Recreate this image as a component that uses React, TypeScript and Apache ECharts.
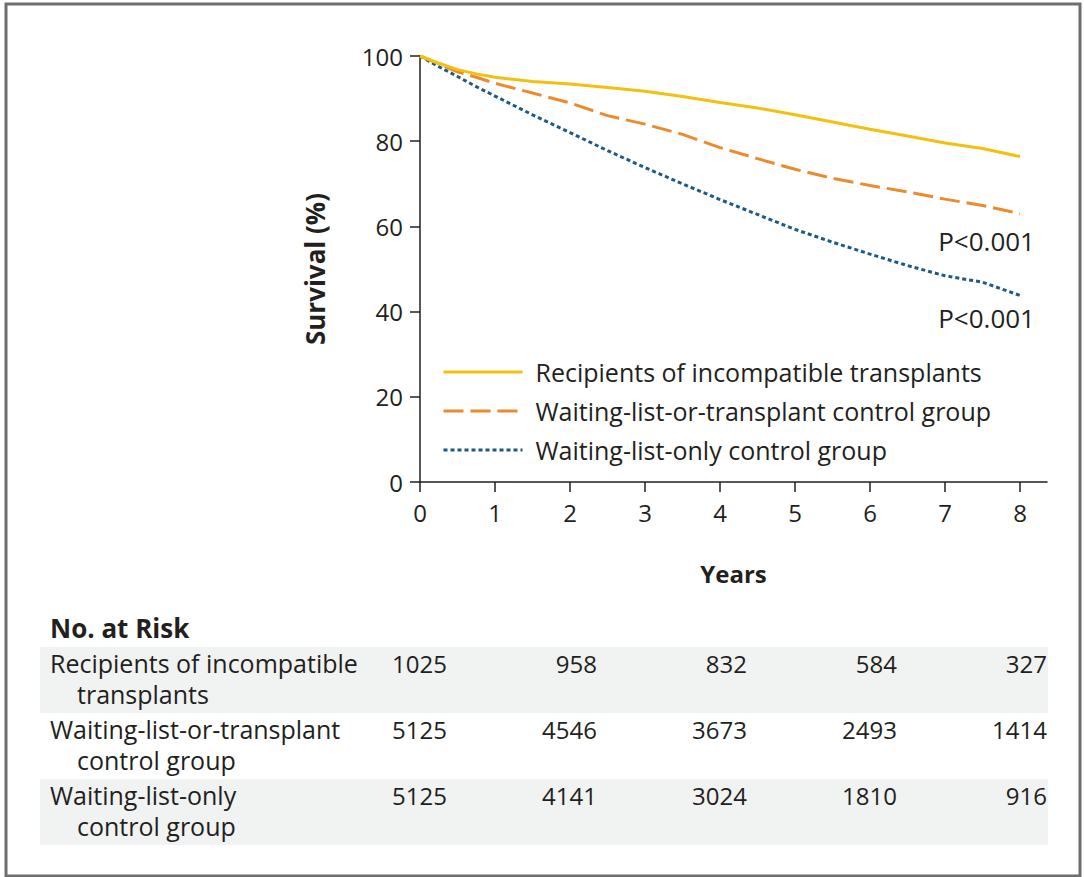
import React, { useEffect, useRef } from "react";
import * as echarts from "echarts";

const years = [0, 0.25, 0.5, 0.75, 1, 1.5, 2, 2.5, 3, 3.5, 4, 4.5, 5, 5.5, 6, 6.5, 7, 7.5, 8];
const recipients = [100, 98.3, 96.8, 95.8, 95.0, 94.0, 93.4, 92.6, 91.7, 90.5, 89.1, 87.8, 86.2, 84.5, 82.8, 81.2, 79.6, 78.3, 76.4];
const waitOrTransplant = [100, 98.2, 96.3, 95.0, 93.6, 91.3, 89.0, 86.0, 84.0, 81.6, 78.5, 75.9, 73.4, 71.3, 69.6, 68.1, 66.4, 64.9, 63.0];
const waitOnly = [100, 97.5, 95.2, 92.8, 90.6, 86.2, 82.0, 77.8, 73.8, 70.0, 66.3, 62.8, 59.3, 56.3, 53.5, 50.8, 48.4, 46.9, 43.8];

const seriesNames = [
  "Recipients of incompatible transplants",
  "Waiting-list-or-transplant control group",
  "Waiting-list-only control group",
];
const seriesColors = ["#F2C10F", "#EC8A2C", "#1D5A88"];

const xTicks = [0, 1, 2, 3, 4, 5, 6, 7, 8];
const pLabels = ["P<0.001", "P<0.001"];
const pLabelValues = [56.6, 38.6];

const riskTitle = "No. at Risk";
const riskGroups = [
  ["Recipients of incompatible", "transplants"],
  ["Waiting-list-or-transplant", "control group"],
  ["Waiting-list-only", "control group"],
];
const riskYears = [0, 2, 4, 6, 8];
const riskCounts = [
  [1025, 958, 832, 584, 327],
  [5125, 4546, 3673, 2493, 1414],
  [5125, 4141, 3024, 1810, 916],
];

const FONT = "'Open Sans', 'Noto Sans', sans-serif";
const INK = "#231F20";

export default function App() {
  const ref = useRef<HTMLDivElement>(null);

  useEffect(() => {
    document.body.style.margin = "0";
    if (!ref.current) return;
    const chart = echarts.init(ref.current, undefined, { renderer: "svg" });

    const mk = (vals: number[]) => years.map((y, i) => [y, vals[i]]);
    const allVals = [recipients, waitOrTransplant, waitOnly];
    const dashes: any[] = ["solid", [20, 7], [4, 3]];

    const option: any = {
      animation: false,
      backgroundColor: "#ffffff",
      textStyle: { fontFamily: FONT, color: INK },
      grid: { left: 420, top: 56, width: 627, height: 426, containLabel: false },
      xAxis: {
        type: "value",
        min: 0,
        max: 8.36,
        name: "Years",
        nameLocation: "middle",
        nameGap: 79,
        nameTextStyle: { fontFamily: FONT, fontSize: 24, fontWeight: "bold", color: INK },
        axisLine: { show: true, lineStyle: { color: INK, width: 1.5 } },
        axisTick: { show: true, length: 10, inside: false, customValues: xTicks, lineStyle: { color: INK, width: 1.5 } },
        axisLabel: {
          customValues: xTicks,
          fontFamily: FONT,
          fontSize: 24,
          color: INK,
          margin: 18,
          formatter: (v: number) => (Number.isInteger(v) ? String(v) : ""),
        },
        splitLine: { show: false },
      },
      yAxis: {
        type: "value",
        min: 0,
        max: 100,
        interval: 20,
        name: "Survival (%)",
        nameLocation: "middle",
        nameRotate: 90,
        nameGap: 92,
        nameTextStyle: { fontFamily: FONT, fontSize: 26, fontWeight: "bold", color: INK },
        axisLine: { show: true, lineStyle: { color: INK, width: 1.5 } },
        axisTick: { show: true, length: 10, lineStyle: { color: INK, width: 1.5 } },
        axisLabel: { fontFamily: FONT, fontSize: 24, color: INK, margin: 17 },
        splitLine: { show: false },
      },
      legend: {
        orient: "vertical",
        left: 442,
        top: 359,
        padding: 0,
        itemWidth: 79,
        itemHeight: 14,
        itemGap: 13,
        selectedMode: false,
        itemStyle: { opacity: 0 },
        lineStyle: { width: 3 },
        textStyle: { fontFamily: FONT, fontSize: 25, color: INK, lineHeight: 26, padding: [0, 0, 0, 8] },
        data: seriesNames,
      },
      series: seriesNames.map((n, i) => ({
        name: n,
        type: "line",
        data: mk(allVals[i]),
        symbol: "none",
        showSymbol: false,
        color: seriesColors[i],
        lineStyle: { color: seriesColors[i], width: 3, type: dashes[i], cap: "butt" },
        z: 3 - i,
      })),
    };
    chart.setOption(option);

    const px = (yr: number) => chart.convertToPixel({ xAxisIndex: 0 }, yr) as number;
    const py = (v: number) => chart.convertToPixel({ yAxisIndex: 0 }, v) as number;

    const graphics: any[] = [];
    graphics.push({
      type: "rect",
      shape: { x: 6, y: 4, width: 1074, height: 872 },
      style: { fill: "none", stroke: "#6E6E6E", lineWidth: 3 },
      silent: true,
    });
    pLabels.forEach((t, i) => {
      graphics.push({
        type: "text",
        x: 1035,
        y: py(pLabelValues[i]),
        style: { text: t, fontFamily: FONT, fontSize: 26, fill: INK, align: "right", verticalAlign: "middle" },
      });
    });
    const tableLeft = 40;
    const tableRight = 1048;
    const rowTop0 = 647;
    const rowH = 66;
    graphics.push({
      type: "text",
      x: 50,
      y: 628,
      style: { text: riskTitle, fontFamily: FONT, fontSize: 26, fontWeight: "bold", fill: INK, align: "left", verticalAlign: "middle" },
    });
    riskGroups.forEach((g, r) => {
      const top = rowTop0 + r * rowH;
      if (r % 2 === 0) {
        graphics.push({
          type: "rect",
          shape: { x: tableLeft, y: top, width: tableRight - tableLeft, height: rowH },
          style: { fill: "#F1F2F2" },
          z: -1,
          silent: true,
        });
      }
      const line1 = top + 16;
      const line2 = top + 47;
      graphics.push({
        type: "text",
        x: 50,
        y: line1,
        style: { text: g[0], fontFamily: FONT, fontSize: 25, fill: INK, align: "left", verticalAlign: "middle" },
      });
      graphics.push({
        type: "text",
        x: 77,
        y: line2,
        style: { text: g[1], fontFamily: FONT, fontSize: 25, fill: INK, align: "left", verticalAlign: "middle" },
      });
      riskYears.forEach((yr, c) => {
        graphics.push({
          type: "text",
          x: px(yr) + 27,
          y: line1,
          style: { text: String(riskCounts[r][c]), fontFamily: FONT, fontSize: 24, fill: INK, align: "right", verticalAlign: "middle" },
        });
      });
    });

    chart.setOption({ graphic: graphics });

    return () => chart.dispose();
  }, []);

  return <div ref={ref} style={{ width: 1084, height: 877 }} />;
}
